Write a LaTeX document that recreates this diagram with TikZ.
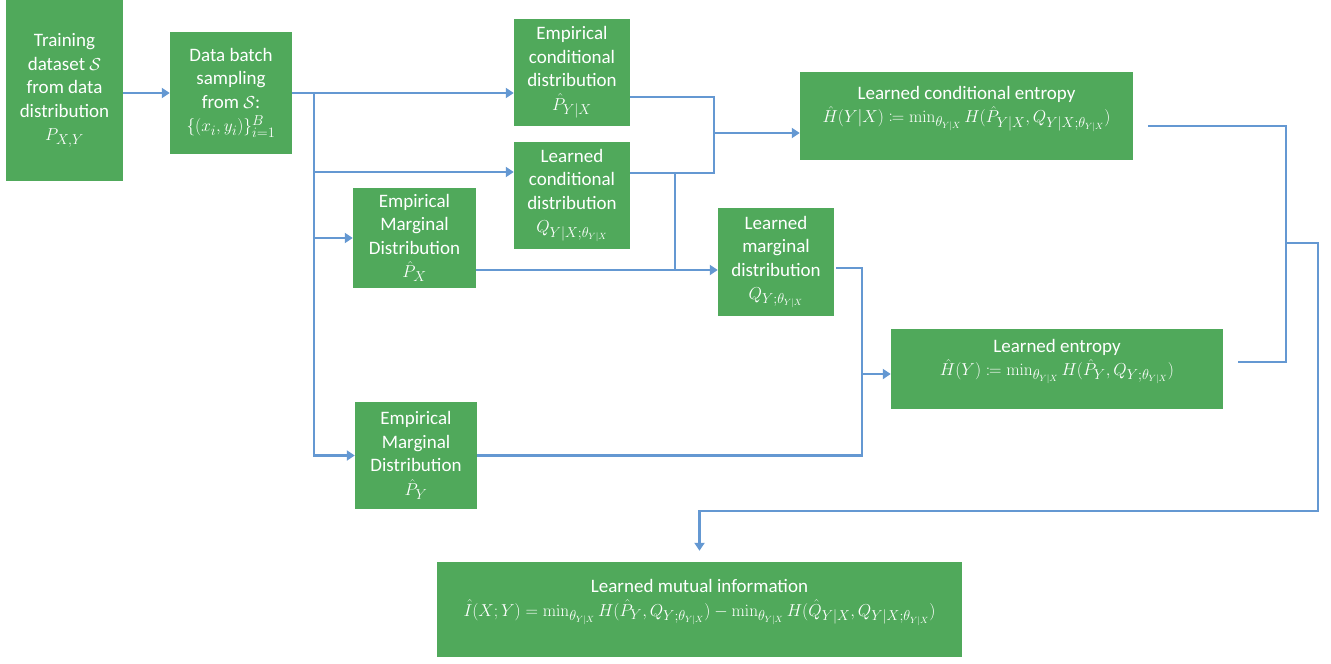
\documentclass[tikz,border=0pt]{standalone}
\usepackage{amsmath}
\usepackage{mathtools}
\usepackage[no-math]{fontspec}
\setmainfont{Carlito}
\usetikzlibrary{arrows.meta}
\definecolor{boxgreen}{RGB}{80,169,91}
\definecolor{linkblue}{RGB}{100,152,210}
\tikzset{
  box/.style={fill=boxgreen, text=white, align=center, inner sep=0pt,
    font=\fontsize{19}{23.5}\selectfont},
  link/.style={draw=linkblue, line width=2.5pt},
  arr/.style={link, -{Triangle[width=10pt,length=8pt]}}
}
\begin{document}
\begin{tikzpicture}[x=1pt,y=-1pt]
\useasboundingbox (0,0) rectangle (1331,664);
% boxes
\node[box, minimum width=117, minimum height=181] (train) at (64.5,90.5)
  {Training\\ dataset $\mathcal{S}$\\ from data\\ distribution\\ $P_{X,Y}$};
\node[box, minimum width=122, minimum height=122] (batch) at (231,93)
  {Data batch\\ sampling\\ from $\mathcal{S}$:\\ $\{(x_i,y_i)\}_{i=1}^{B}$};
\node[box, minimum width=116, minimum height=107] (ec) at (572,72.5)
  {Empirical\\ conditional\\ distribution\\ $\hat{P}_{Y|X}$};
\node[box, minimum width=116, minimum height=107] (lc) at (572,195.5)
  {Learned\\ conditional\\ distribution\\ $Q_{Y|X;\theta_{Y|X}}$};
\node[box, minimum width=123, minimum height=100] (px) at (414.5,238)
  {Empirical\\ Marginal\\ Distribution\\ $\hat{P}_X$};
\node[box, minimum width=116, minimum height=108] (lm) at (776,262)
  {Learned\\ marginal\\ distribution\\ $Q_{Y;\theta_{Y|X}}$};
\node[box, minimum width=122, minimum height=107] (py) at (416,455.5)
  {Empirical\\ Marginal\\ Distribution\\ $\hat{P}_Y$};
\node[box, minimum width=333, minimum height=88] (hc) at (966.5,116)
  {Learned conditional entropy\\ $\hat{H}(Y|X) \coloneqq \min_{\theta_{Y|X}} H(\hat{P}_{Y|X}, Q_{Y|X;\theta_{Y|X}})$\\ \mbox{}};
\node[box, minimum width=332, minimum height=80] (he) at (1057,369)
  {Learned entropy\\ $\hat{H}(Y) \coloneqq \min_{\theta_{Y|X}} H(\hat{P}_{Y}, Q_{Y;\theta_{Y|X}})$\\ \mbox{}};
\node[box, minimum width=525, minimum height=95] (mi) at (699.5,609.5)
  {Learned mutual information\\ $\hat{I}(X;Y) = \min_{\theta_{Y|X}} H(\hat{P}_{Y}, Q_{Y;\theta_{Y|X}}) - \min_{\theta_{Y|X}} H(\hat{Q}_{Y|X}, Q_{Y|X;\theta_{Y|X}})$\\ \mbox{}};
% junction coordinates
\coordinate (t) at (314,93);
\coordinate (j1) at (714,133);
\coordinate (j2) at (675,270);
\coordinate (j3) at (862,374);
\coordinate (j4) at (1286,243);
\coordinate (c1) at (1318,511);
% connectors
\draw[arr] (train.east |- batch.west) -- (batch.west);
\draw[arr] (batch.east) -- (ec.west |- batch.east);
\draw[arr] (t) |- ([yshift=23.5pt]lc.west);
\draw[arr] (t) |- (px.west);
\draw[arr] (t) |- (py.west);
\draw[link] ([yshift=-24.5pt]ec.east) -| (j1);
\draw[link] ([yshift=22.5pt]lc.east) -| (j1);
\draw[arr] (j1) -- (hc.west |- j1);
\draw[link] ([yshift=22.5pt]lc.east) -| (j2);
\draw[arr] ([yshift=-32pt]px.east) -- (lm.west |- j2);
\draw[link] ([shift={(2pt,-6pt)}]lm.east) -| (j3);
\draw[link] (py.east) -| (j3);
\draw[arr] (j3) -- (he.west |- j3);
\draw[link] ([shift={(15pt,-10pt)}]hc.east) -| (j4);
\draw[link] ([shift={(15pt,7pt)}]he.east) -| (j4);
\draw[arr] (j4) -| (c1) -| ([yshift=11pt]mi.north);
\end{tikzpicture}
\end{document}
